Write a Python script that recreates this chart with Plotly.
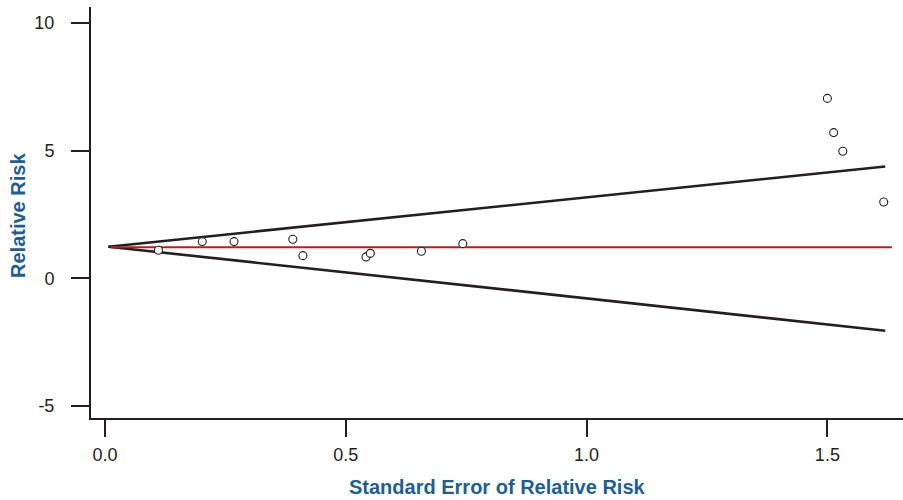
import plotly.graph_objects as go

# Study points: standard error vs relative risk
se = [0.111, 0.202, 0.268, 0.390, 0.411, 0.542, 0.551, 0.657, 0.743, 1.500, 1.513, 1.532, 1.617]
rr = [1.10, 1.44, 1.44, 1.53, 0.89, 0.84, 0.98, 1.06, 1.36, 7.05, 5.71, 4.98, 2.99]

# Pooled estimate line
pooled_x = [0.012, 1.634]
pooled_y = [1.22, 1.22]

# Funnel limits
funnel_x = [0.007, 1.620]
upper_y = [1.24, 4.38]
lower_y = [1.24, -2.05]

x_ticks = [0.0, 0.5, 1.0, 1.5]
x_labels = ["0.0", "0.5", "1.0", "1.5"]
y_ticks = [-5, 0, 5, 10]
y_labels = ["-5", "0", "5", "10"]

x_title = "Standard Error of Relative Risk"
y_title = "Relative Risk"

dark = "#231f20"
blue = "#1b5f96"
font_fam = "Liberation Sans, Arial, sans-serif"

fig = go.Figure()
fig.add_trace(go.Scatter(x=funnel_x, y=upper_y, mode="lines",
                         line=dict(color=dark, width=2.6), hoverinfo="skip"))
fig.add_trace(go.Scatter(x=funnel_x, y=lower_y, mode="lines",
                         line=dict(color=dark, width=2.6), hoverinfo="skip"))
fig.add_trace(go.Scatter(x=pooled_x, y=pooled_y, mode="lines",
                         line=dict(color="#b0202a", width=1.9), hoverinfo="skip"))
fig.add_trace(go.Scatter(x=se, y=rr, mode="markers",
                         marker=dict(symbol="circle", size=8, color="white",
                                     line=dict(color=dark, width=1.1))))

fig.update_layout(
    width=903, height=500,
    margin=dict(l=91, r=0, t=7, b=82),
    plot_bgcolor="white", paper_bgcolor="white",
    showlegend=False,
    font=dict(family=font_fam, color=dark),
    annotations=[
        dict(text="<b>" + x_title + "</b>", xref="paper", yref="paper",
             x=0.5, y=0, yshift=-69, xanchor="center", yanchor="middle",
             showarrow=False, font=dict(size=20, color=blue, family=font_fam)),
        dict(text="<b>" + y_title + "</b>", xref="paper", yref="paper",
             x=0, xshift=-73, y=0.4915, xanchor="center", yanchor="middle",
             textangle=-90, showarrow=False,
             font=dict(size=20, color=blue, family=font_fam)),
    ],
)
fig.update_xaxes(
    range=[-0.029, 1.657], showgrid=False, zeroline=False, automargin=False,
    showline=True, linecolor=dark, linewidth=2,
    ticks="outside", ticklen=17, tickwidth=2, tickcolor=dark,
    tickvals=x_ticks, ticktext=x_labels,
    tickfont=dict(size=18, color=dark, family=font_fam),
    ticklabelstandoff=2,
)
fig.update_yaxes(
    range=[-5.47, 10.63], showgrid=False, zeroline=False, automargin=False,
    showline=True, linecolor=dark, linewidth=2,
    ticks="outside", ticklen=18, tickwidth=2, tickcolor=dark,
    tickvals=y_ticks, ticktext=y_labels,
    tickfont=dict(size=18, color=dark, family=font_fam),
    ticklabelstandoff=13,
)

fig.write_html("out.html", config={"displayModeBar": False},
               post_script="document.body.style.margin='0px';")
